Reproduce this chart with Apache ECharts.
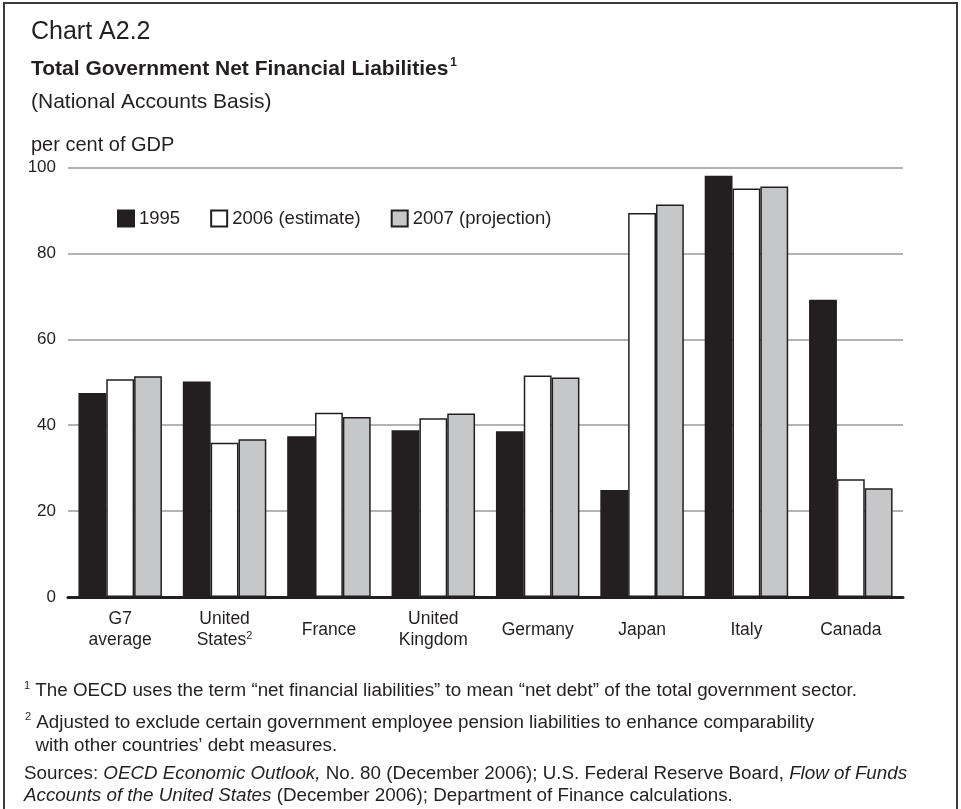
<!DOCTYPE html>
<html>
<head>
<meta charset="utf-8">
<script src="https://cdn.jsdelivr.net/npm/echarts@6/dist/echarts.min.js"></script>
<style>
  html, body { margin: 0; padding: 0; background: #fff; }
  #chart { width: 961px; height: 809px; }
</style>
</head>
<body>
<div id="chart"></div>
<script>
// values (per cent of GDP)
const categories = ['G7\naverage', 'United\nStates', 'France', 'United\nKingdom', 'Germany', 'Japan', 'Italy', 'Canada'];
const seriesNames = ['1995', '2006 (estimate)', '2007 (projection)'];
const values1995 = [47.5, 50.2, 37.4, 38.8, 38.6, 24.9, 98.1, 69.2];
const values2006 = [50.7, 35.9, 42.9, 41.6, 51.6, 89.4, 95.1, 27.4];
const values2007 = [51.4, 36.7, 41.9, 42.7, 51.1, 91.4, 95.6, 25.3];
const yTicks = [0, 20, 40, 60, 80, 100];

const FONT = '"Liberation Sans", Arial, sans-serif';
const INK = '#231f20';
const fills = [INK, '#ffffff', '#c6c7c9'];
const seriesData = [values1995, values2006, values2007];
const NOTE = 18.8;

const chart = echarts.init(document.getElementById('chart'));

chart.setOption({
    backgroundColor: '#fff',
    textStyle: { fontFamily: FONT, color: INK },
    title: [
        {
            text: 'Chart A2.2',
            left: 26, top: 15,
            textStyle: { fontFamily: FONT, fontSize: 25, fontWeight: 'normal', color: INK }
        },
        {
            text: '{b|Total Government Net Financial Liabilities}{sup|1}',
            left: 26, top: 52,
            textStyle: {
                rich: {
                    b: { fontFamily: FONT, fontSize: 21, fontWeight: 'bold', color: INK, lineHeight: 24 },
                    sup: { fontFamily: FONT, fontSize: 12, color: INK, verticalAlign: 'top', lineHeight: 24, padding: [0, 0, 0, 2] }
                }
            }
        },
        {
            text: '(National Accounts Basis)',
            left: 26, top: 87,
            textStyle: { fontFamily: FONT, fontSize: 21, fontWeight: 'normal', color: INK }
        },
        {
            text: 'per cent of GDP',
            left: 26, top: 130,
            textStyle: { fontFamily: FONT, fontSize: 20, fontWeight: 'normal', color: INK }
        }
    ],
    legend: {
        left: 112, top: 204,
        itemWidth: 16, itemHeight: 16, itemGap: 30,
        icon: 'rect',
        textStyle: { fontFamily: FONT, fontSize: 18.5, color: INK },
        data: seriesNames
    },
    grid: {
        left: 68, right: 58, top: 167.5, bottom: 212
    },
    xAxis: {
        type: 'category',
        data: categories,
        axisLine: { show: true, lineStyle: { color: INK, width: 3 } },
        axisTick: { show: false },
        axisLabel: {
            interval: 0,
            fontFamily: FONT, fontSize: 17.5, color: INK, lineHeight: 21,
            margin: 33, verticalAlign: 'middle',
            formatter: function (v) {
                return v === 'United\nStates' ? 'United\nStates{sup|2}' : v;
            },
            rich: {
                sup: { fontFamily: FONT, fontSize: 11, color: INK, verticalAlign: 'top', lineHeight: 21 }
            }
        }
    },
    yAxis: {
        type: 'value',
        min: 0, max: 100, interval: 20,
        axisLine: { show: false },
        axisTick: { show: false },
        axisLabel: {
            fontFamily: FONT, fontSize: 17, color: INK, margin: 12,
            formatter: function (v) { return yTicks.indexOf(v) >= 0 ? String(v) : ''; }
        },
        splitLine: { lineStyle: { color: '#9a9a9a', width: 1.5 } }
    },
    series: seriesNames.map(function (name, i) {
        return {
            name: name,
            type: 'bar',
            data: seriesData[i],
            barGap: '0%',
            barCategoryGap: '20%',
            itemStyle: { color: fills[i], borderColor: INK, borderWidth: 1.5 },
            emphasis: { disabled: true }
        };
    }),
    graphic: [
        {
            type: 'rect',
            shape: { x: 4, y: 3, width: 953, height: 840 },
            style: { fill: 'none', stroke: '#3a3a3a', lineWidth: 2 },
            silent: true
        },
        {
            type: 'text', left: 24, top: 680,
            style: {
                text: '{s|1}{t| The OECD uses the term \u201cnet financial liabilities\u201d to mean \u201cnet debt\u201d of the total government sector.}',
                rich: {
                    s: { fontFamily: FONT, fontSize: 11, fill: INK, verticalAlign: 'top', lineHeight: 22 },
                    t: { fontFamily: FONT, fontSize: NOTE, fill: INK, lineHeight: 22 }
                }
            }
        },
        {
            type: 'text', left: 25, top: 711,
            style: {
                text: '{s|2}{t| Adjusted to exclude certain government employee pension liabilities to enhance comparability}\n{t|  with other countries\u2019 debt measures.}',
                rich: {
                    s: { fontFamily: FONT, fontSize: 11, fill: INK, verticalAlign: 'top', lineHeight: 23 },
                    t: { fontFamily: FONT, fontSize: NOTE, fill: INK, lineHeight: 23 }
                }
            }
        },
        {
            type: 'text', left: 24, top: 764,
            style: {
                text: '{t|Sources: }{i|OECD Economic Outlook,}{t| No. 80 (December 2006); U.S. Federal Reserve Board, }{i|Flow of Funds}\n{i|Accounts of the United States}{t| (December 2006); Department of Finance calculations.}',
                rich: {
                    t: { fontFamily: FONT, fontSize: NOTE, fill: INK, lineHeight: 22 },
                    i: { fontFamily: FONT, fontSize: NOTE, fontStyle: 'italic', fill: INK, lineHeight: 22 }
                }
            }
        }
    ]
});
</script>
</body>
</html>
